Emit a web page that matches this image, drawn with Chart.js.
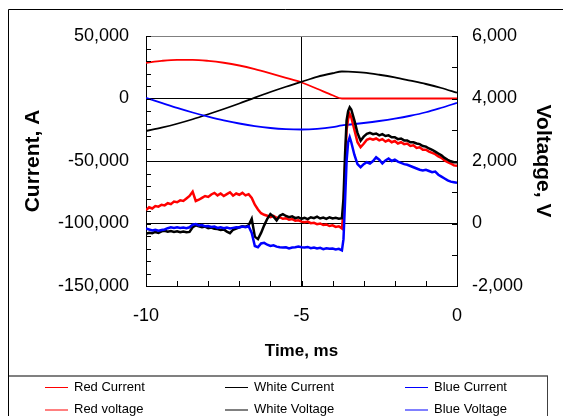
<!DOCTYPE html>
<html>
<head>
<meta charset="utf-8">
<script src="https://cdn.jsdelivr.net/npm/chart.js@4.4.1/dist/chart.umd.min.js"></script>
<style>
  html, body { margin: 0; padding: 0; background: #fff; }
  #wrap { position: relative; width: 563px; height: 416px; overflow: hidden; }
  #legend { position: absolute; left: 0; top: 0; font: 13px "Liberation Sans", Arial, sans-serif; color: #000; }
  .item { position: absolute; white-space: nowrap; line-height: 16px; }
  .swatch { display: inline-block; width: 23px; height: 0; vertical-align: middle; margin-right: 6px; }
</style>
</head>
<body>
<div id="wrap">
  <canvas id="chart" width="563" height="416"></canvas>
  <div id="legend"></div>
</div>
<script>
/* ============================================================
   DATA: currents (A, left axis) and voltages (V, right axis)
============================================================ */

const seriesNames = ["Red Current", "White Current", "Blue Current",
                     "Red voltage", "White Voltage", "Blue Voltage"];

const timeI = [-10, -9.5, -9, -8.5, -8, -7.5, -7, -6.5, -6, -5.5, -5, -4.5, -4,
               -3.7, -3.5, -3, -2.5, -2, -1.5, -1, -0.5, 0];

const redCurrent   = [28600, 30100, 30900, 30900, 30100, 28600, 26400, 23500, 20100, 16500, 12800, 7800, 2600,
                      0, 0, 0, 0, 0, 0, 0, 0, 0];
const whiteCurrent = [-26000, -23300, -20200, -16600, -12600, -8400, -4000, 700, 5200, 9400, 13300, 17300, 20200,
                      21600, 21500, 20700, 19000, 16900, 14300, 11600, 8400, 4600];
const blueCurrent  = [500, -3500, -7500, -11200, -14500, -17500, -20000, -22100, -23600, -24500, -24800, -24300, -22900,
                      -21500, -21000, -19600, -18000, -16100, -13800, -11000, -7400, -3500];

const timeV = [
  -10.0, -9.9, -9.8, -9.7, -9.6, -9.5, -9.4, -9.3, -9.2, -9.1,
  -9.0, -8.9, -8.8, -8.7, -8.6, -8.5, -8.4, -8.3, -8.2, -8.1,
  -8.0, -7.9, -7.8, -7.7, -7.6, -7.5, -7.4, -7.3, -7.2, -7.1,
  -7.0, -6.9, -6.8, -6.7, -6.6, -6.5, -6.4, -6.3, -6.2, -6.1,
  -6.0, -5.9, -5.8, -5.7, -5.6, -5.5, -5.4, -5.3, -5.2, -5.1,
  -5.0, -4.9, -4.8, -4.7, -4.6, -4.5, -4.4, -4.3, -4.2, -4.1,
  -4.0, -3.9, -3.8, -3.7, -3.65, -3.6, -3.55, -3.5, -3.45, -3.4,
  -3.3, -3.2, -3.1, -3.0, -2.9, -2.8, -2.7, -2.6, -2.5, -2.4,
  -2.3, -2.2, -2.1, -2.0, -1.9, -1.8, -1.7, -1.6, -1.5, -1.4,
  -1.3, -1.2, -1.1, -1.0, -0.9, -0.8, -0.7, -0.6, -0.5, -0.4,
  -0.3, -0.2, -0.1, 0
];

const redVoltage = [
  430, 520, 480, 560, 540, 600, 580, 650, 620, 700,
  680, 740, 720, 800, 880, 1020, 720, 760, 820, 880,
  850, 930, 980, 900, 960, 880, 940, 1000, 890, 960,
  920, 980, 900, 940, 820, 600, 450, 330, 280, 250,
  200, 240, 180, 200, 150, 170, 120, 140, 90, 100,
  60, 40, 60, 10, 20, -20, 0, -50, -30, -80,
  -60, -110, -90, -160, 400, 1800, 3000, 3350, 3500, 3400,
  3000, 2600, 2440, 2550, 2680, 2720, 2680, 2720, 2660, 2700,
  2620, 2670, 2600, 2640, 2560, 2600, 2540, 2560, 2480, 2500,
  2420, 2440, 2360, 2360, 2300, 2260, 2220, 2150, 2100, 2020,
  1960, 1920, 1860, 1850
];

const whiteVoltage = [
  -330, -300, -310, -270, -300, -250, -230, -260, -240, -270,
  -250, -280, -260, -280, -270, -120, -60, -90, -120, -100,
  -150, -130, -170, -180, -210, -190, -260, -310, -200, -160,
  -120, -90, -100, -60, 150, -420, -500, -300, -60, 150,
  300, 220, 100, 250, 300, 240, 200, 230, 170, 200,
  150, 180, 140, 200, 170, 220, 160, 190, 150, 200,
  160, 180, 150, 170, 800, 2200, 3300, 3600, 3720, 3650,
  3300, 2900, 2650, 2780, 2870, 2900, 2860, 2880, 2820, 2860,
  2800, 2820, 2760, 2760, 2700, 2720, 2660, 2660, 2600, 2600,
  2560, 2540, 2480, 2460, 2400, 2360, 2300, 2240, 2180, 2100,
  2040, 1990, 1960, 1960
];

const blueVoltage = [
  -160, -190, -220, -200, -230, -210, -190, -150, -120, -140,
  -120, -140, -130, -150, -120, -40, -20, -60, -50, -90,
  -80, -110, -100, -140, -120, -150, -130, -160, -140, -120,
  -130, -100, -120, -90, -300, -720, -760, -640, -620, -680,
  -720, -700, -740, -760, -770, -760, -800, -770, -760, -740,
  -760, -770, -750, -790, -770, -800, -780, -820, -790, -810,
  -800, -830, -810, -860, -500, 700, 2000, 2600, 2760, 2600,
  2200, 1900, 1800, 1900, 1960, 1920, 2000, 2120, 2040, 1920,
  2020, 2080, 2000, 2040, 1980, 1940, 1900, 1880, 1840, 1800,
  1760, 1720, 1700, 1720, 1680, 1640, 1660, 1560, 1500, 1440,
  1380, 1340, 1320, 1300
];

/* ============================================================
   STYLE
============================================================ */

const FONT = '"Liberation Sans", Arial, sans-serif';
const lineColors   = ["#ff0000", "#000000", "#0000ff", "#ff0000", "#000000", "#0000ff"];
const legendColors = ["#ff0000", "#000000", "#0000ff", "#ff8080", "#808080", "#8080ff"];
const legendWidths = [1, 1, 1, 2, 2, 2];

const pts = (xs, ys) => xs.map((t, i) => ({ x: t, y: ys[i] }));

/* ============================================================
   FRAME + MINOR TICKS
============================================================ */

const frame = {
    id: "frame",
    afterDraw(chart) {
        const { ctx, scales: { x, y, y1 } } = chart;
        ctx.save();
        ctx.strokeStyle = "#000";
        ctx.lineWidth = 1;
        ctx.beginPath();
        for (let v = -150000; v <= 50000; v += 10000) {
            const py = Math.round(y.getPixelForValue(v)) + 0.5;
            ctx.moveTo(x.left, py); ctx.lineTo(x.left + 5, py);
        }
        for (let v = -2000; v <= 6000; v += 1000) {
            const py = Math.round(y1.getPixelForValue(v)) + 0.5;
            ctx.moveTo(x.right, py); ctx.lineTo(x.right - 5, py);
        }
        for (let t = -10; t <= 0; t += 1) {
            const px = Math.round(x.getPixelForValue(t)) + 0.5;
            ctx.moveTo(px, y.bottom); ctx.lineTo(px, y.bottom - 5);
        }
        // outer chart border
        ctx.moveTo(8.5, 416); ctx.lineTo(8.5, 9.5); ctx.lineTo(563, 9.5);
        ctx.stroke();

        // legend box
        ctx.strokeStyle = "#808080";
        ctx.lineWidth = 2;
        ctx.beginPath();
        ctx.moveTo(9, 376); ctx.lineTo(548, 376);
        ctx.stroke();
        ctx.strokeStyle = "#404040";
        ctx.lineWidth = 1;
        ctx.beginPath();
        ctx.moveTo(547.5, 376); ctx.lineTo(547.5, 416);
        ctx.stroke();
        ctx.restore();
    }
};

/* ============================================================
   CHART
============================================================ */

const voltages = [redVoltage, whiteVoltage, blueVoltage];
const currents = [redCurrent, whiteCurrent, blueCurrent];

const datasets = seriesNames.map((name, i) => {
    const isCurrent = i < 3;
    return {
        label: name,
        data: isCurrent ? pts(timeI, currents[i]) : pts(timeV, voltages[i - 3]),
        yAxisID: isCurrent ? "y" : "y1",
        borderColor: lineColors[i],
        borderWidth: isCurrent ? 1.8 : 2.5,
        pointRadius: 0,
        tension: 0,
        cubicInterpolationMode: isCurrent ? "monotone" : "default",
        order: 6 - i
    };
});

const fmt = v => Number(v).toLocaleString("en-US");

const chart = new Chart(document.getElementById("chart"), {
    type: "line",
    data: { datasets: datasets },
    options: {
        responsive: false,
        animation: false,
        layout: { padding: { top: 36, bottom: 40, left: 0, right: 0 } },
        plugins: { legend: { display: false }, tooltip: { enabled: false } },
        scales: {
            x: {
                type: "linear", min: -10, max: 0,
                ticks: { stepSize: 5, padding: 19, color: "#000", font: { family: FONT, size: 18 }, callback: fmt },
                grid: { color: "#000", drawTicks: false },
                border: { color: "#000" },
                title: { display: true, text: "Time, ms", color: "#000",
                         font: { family: FONT, size: 17, weight: "bold" }, padding: { top: 0, bottom: 14 } },
                afterFit: s => { s.height = 90; }
            },
            y: {
                position: "left", min: -150000, max: 50000,
                ticks: { stepSize: 50000, padding: 17, color: "#000", font: { family: FONT, size: 18 }, callback: fmt },
                grid: { color: c => (c.tick && c.tick.value === 50000) ? "#808080" : "#000", drawTicks: false },
                border: { color: "#000" },
                title: { display: true, text: "Current, A", color: "#000",
                         font: { family: FONT, size: 21, weight: "bold" }, padding: { top: 21, bottom: 0 } },
                afterFit: s => { s.width = 146; }
            },
            y1: {
                position: "right", min: -2000, max: 6000,
                ticks: { stepSize: 2000, padding: 15, color: "#000", font: { family: FONT, size: 18 }, callback: fmt },
                grid: { drawOnChartArea: false, drawTicks: false },
                border: { color: "#000" },
                title: { display: true, text: "Voltaqge, V", color: "#000",
                         font: { family: FONT, size: 21, weight: "bold" }, padding: { top: 8, bottom: 0 } },
                afterFit: s => { s.width = 106; }
            }
        }
    },
    plugins: [frame]
});

/* ============================================================
   LEGEND (3 columns x 2 rows)
============================================================ */

const legendCols = [45, 225, 405];
const legendRows = [379, 401];
const legendBox = document.getElementById("legend");
chart.data.datasets.forEach((ds, i) => {
    const item = document.createElement("div");
    item.className = "item";
    item.style.left = legendCols[i % 3] + "px";
    item.style.top = legendRows[Math.floor(i / 3)] + "px";
    const sw = document.createElement("span");
    sw.className = "swatch";
    sw.style.borderTop = legendWidths[i] + "px solid " + legendColors[i];
    item.appendChild(sw);
    item.appendChild(document.createTextNode(ds.label));
    legendBox.appendChild(item);
});
</script>
</body>
</html>
